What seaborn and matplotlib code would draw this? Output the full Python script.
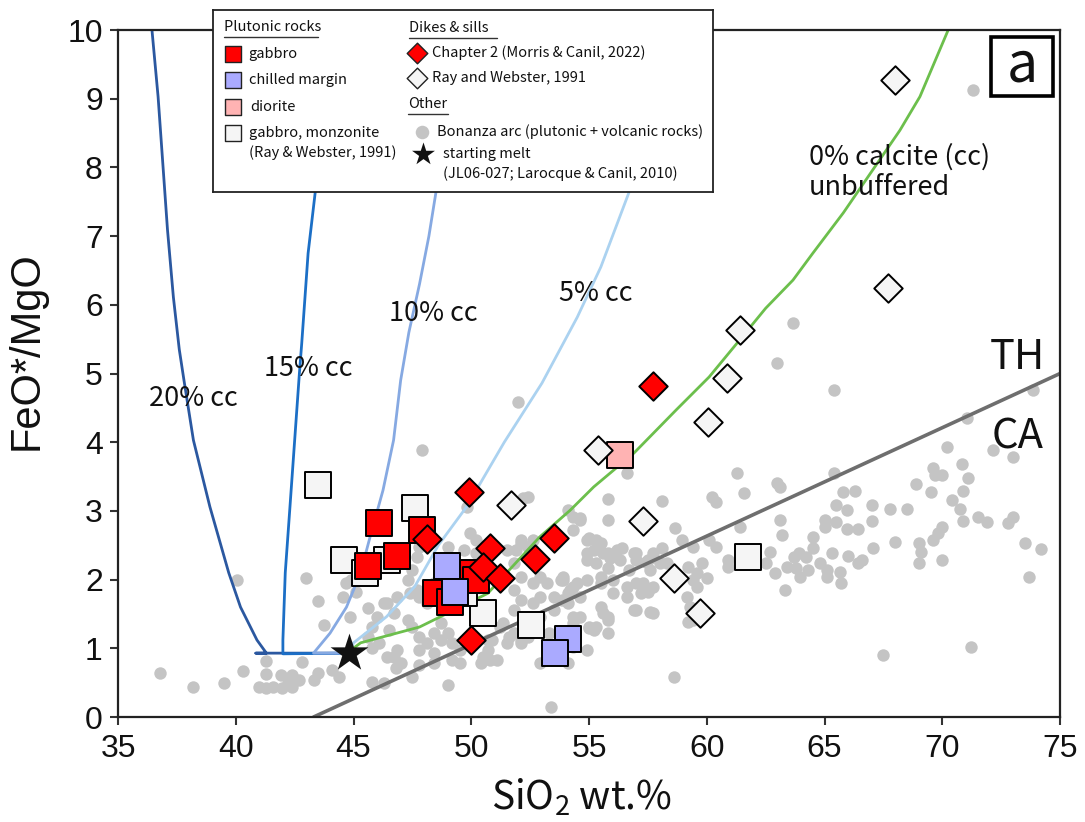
import matplotlib
matplotlib.use("Agg")
import matplotlib.pyplot as plt
from matplotlib.patches import Rectangle
import seaborn as sns

# ---- data ----
# Bonanza arc (plutonic + volcanic rocks), grey dots
bonanza_sio2 = [
    63.66, 63.0, 65.4, 71.05, 70.2, 72.15, 73.0, 73.85, 61.3, 63.0, 61.6, 60.2, 60.4, 55.8, 58.1, 56.6, 65.4,
    65.8, 66.3, 69.6, 70.0, 69.7, 70.85, 71.1, 68.9, 69.5, 70.9, 70.4, 70.75, 70.9, 71.5, 71.9, 73.0, 72.8, 68.5,
    67.8, 67.0, 65.5, 65.95, 65.0, 65.5, 67.0, 65.95, 66.4, 65.0, 68.0, 69.0, 69.1, 69.0, 69.8, 70.0, 69.6, 70.0,
    73.5, 74.2, 73.7, 67.05, 66.0, 66.4, 66.6, 65.3, 65.65, 65.7, 64.5, 64.5, 63.9, 64.2, 63.7, 64.8, 65.1, 65.1,
    64.3, 63.96, 63.8, 63.4, 63.2, 63.1, 62.9, 63.3, 62.7, 62.5, 71.2, 67.5, 58.6, 61.4, 63.1, 60.4, 60.1, 59.8,
    59.6, 60.0, 60.9, 60.9, 59.4, 58.95, 58.65, 58.1, 57.7, 58.0, 57.4, 57.6, 57.3, 57.5, 57.0, 57.6, 59.2, 59.15,
    59.6, 56.4, 57.0, 57.0, 55.8, 54.6, 54.3, 55.0, 55.3, 54.9, 55.3, 55.6, 55.9, 55.5, 55.8, 56.0, 56.0, 56.6,
    55.6, 55.8, 55.0, 55.2, 53.9, 53.85, 56.7, 57.0,
    71.3, 52.0, 47.9,
    36.8, 38.2, 39.5, 40.05, 40.3, 41.3, 41.3, 41.0, 41.3, 41.6, 41.96, 42.2, 42.4, 42.7, 42.4, 41.9, 42.8, 43.0,
    43.5, 43.5, 43.3, 43.75, 44.1, 44.4, 44.55, 44.7, 45.1, 44.85, 45.6, 45.8, 46.0, 46.3, 46.5, 46.7, 46.8, 46.3,
    45.8,
    44.9, 49.8, 52.4, 49.95, 50.2, 49.7, 49.0, 48.8, 47.8, 47.7, 47.1, 47.5, 47.3, 47.7, 47.8, 48.4, 48.1, 46.4,
    46.85, 46.7, 45.8, 45.6, 46.1, 47.3, 47.5, 47.8, 48.1, 47.8, 48.7, 49.0, 49.2, 48.7, 46.85, 46.4, 47.0, 49.5,
    49.2, 51.5, 52.1, 52.4, 52.6, 51.8, 52.1, 52.6, 52.9, 51.8, 52.1, 51.8, 52.6, 52.9, 53.2, 53.5, 53.9, 54.2,
    54.5, 51.35, 51.8, 52.1, 51.5, 52.4, 50.7, 50.7, 51.1, 50.4, 52.9, 53.5, 54.1, 54.3, 53.3, 53.8, 54.3, 53.6,
    52.9, 54.1, 49.5, 48.4, 47.8,
    50.2, 52.2, 54.1, 54.3, 54.6, 52.1, 51.9, 52.4, 52.6, 54.9, 55.2, 55.5, 54.9, 55.8, 56.2, 56.3, 56.9, 57.5,
    57.7, 58.3, 58.6, 59.2, 59.4, 53.8, 54.1, 54.6, 54.3, 54.9, 55.5, 56.6, 57.2, 57.7, 55.5, 55.8, 56.9, 57.7,
    54.3, 55.0, 54.6, 47.5, 49.0, 53.4, 59.4, 59.3, 47.4, 48.4, 48.4, 51.2, 51.6, 52.1, 50.9, 50.5, 50.8, 54.3,
    54.9, 55.3, 55.8,
]
bonanza_ratio = [
    5.73, 5.15, 4.76, 4.35, 3.93, 3.89, 3.78, 4.76, 3.55, 3.41, 3.26, 3.2, 3.13, 3.17, 3.14, 3.55, 3.55,
    3.28, 3.29, 3.62, 3.52, 3.52, 3.68, 3.48, 3.39, 3.28, 3.29, 3.16, 3.03, 2.85, 2.91, 2.84, 2.91, 2.82, 3.03,
    3.03, 3.09, 3.09, 3.01, 2.87, 2.84, 2.85, 2.74, 2.74, 2.77, 2.55, 2.53, 2.4, 2.24, 2.68, 2.77, 2.58, 2.29,
    2.53, 2.44, 2.04, 2.46, 2.34, 2.24, 2.29, 2.39, 2.11, 1.95, 2.62, 2.46, 2.39, 2.33, 2.33, 2.24, 2.14, 2.04,
    2.14, 2.04, 2.17, 2.18, 2.65, 2.87, 2.1, 1.85, 2.4, 2.24, 1.02, 0.9, 0.58, 2.77, 3.35, 2.47, 2.58, 2.24,
    2.1, 2.02, 2.29, 2.18, 2.47, 2.58, 2.75, 2.46, 2.39, 2.24, 2.26, 2.14, 1.95, 1.82, 1.56, 1.53, 1.38, 1.75,
    1.89, 2.46, 2.39, 2.29, 2.87, 2.9, 2.72, 2.6, 2.58, 2.29, 2.24, 2.39, 2.31, 2.04, 2.17, 1.99, 1.8, 1.75,
    1.51, 1.41, 1.3, 1.27, 2.04, 1.7, 2.14, 1.95,
    9.13, 4.58, 3.89,
    0.64, 0.44, 0.49, 2.0, 0.67, 0.82, 0.63, 0.44, 0.42, 0.44, 0.42, 0.49, 0.44, 0.54, 0.61, 0.61, 0.8, 2.02,
    1.69, 0.64, 0.54, 1.34, 0.68, 0.58, 1.75, 1.95, 1.82, 1.46, 1.59, 1.0, 1.46, 1.66, 1.27, 0.87, 0.71, 0.49,
    0.51,
    1.99, 3.06, 3.2, 2.68, 2.39, 2.43, 2.47, 2.24, 2.47, 2.33, 2.33, 2.14, 1.99, 1.85, 1.75, 1.95, 1.66, 1.66,
    1.75, 1.51, 1.31, 1.16, 1.08, 1.41, 1.31, 1.16, 1.08, 0.98, 1.37, 1.22, 1.08, 1.12, 0.98, 0.87, 0.79, 0.98,
    0.83, 2.43, 2.53, 2.33, 2.43, 2.24, 2.04, 1.95, 2.04, 1.85, 1.7, 1.56, 1.66, 1.75, 1.95, 1.75, 1.99, 1.85,
    1.95, 1.37, 1.22, 1.08, 1.08, 1.16, 1.12, 0.98, 0.83, 0.79, 1.46, 1.56, 1.66, 1.46, 1.22, 1.12, 1.22, 0.87,
    0.79, 0.79, 0.79, 0.79, 0.76,
    2.58, 3.19, 3.01, 2.91, 2.87, 2.58, 2.43, 2.47, 2.58, 2.58, 2.43, 2.53, 2.39, 2.39, 2.43, 2.29, 2.39, 2.29,
    2.33, 2.24, 2.1, 2.18, 1.99, 1.99, 1.8, 1.75, 1.89, 1.99, 1.95, 1.89, 1.8, 1.89, 1.6, 1.46, 1.56, 1.51,
    1.37, 1.31, 1.46, 0.58, 0.47, 0.15, 1.41, 1.6, 1.8, 1.22, 0.93, 1.31, 1.16, 1.12, 1.12, 0.87, 0.83, 1.02,
    0.98, 1.31, 1.22,
]

# plutonic rocks
gabbro_sio2 = [46.1, 47.9, 46.85, 45.6, 48.5, 49.1, 49.8, 50.2]
gabbro_ratio = [2.82, 2.72, 2.34, 2.2, 1.8, 1.67, 2.1, 2.0]
chilled_sio2 = [48.95, 49.3, 54.1, 53.55]
chilled_ratio = [2.2, 1.82, 1.13, 0.93]
diorite_sio2 = [56.3]
diorite_ratio = [3.81]
rw_plut_sio2 = [43.5, 47.6, 44.6, 45.5, 46.4, 50.5, 52.55, 49.7, 61.75]
rw_plut_ratio = [3.38, 3.04, 2.28, 2.1, 2.28, 1.51, 1.34, 1.8, 2.33]

# dikes & sills
ch2_sio2 = [49.9, 48.1, 50.8, 50.5, 51.2, 52.7, 53.5, 50.0, 57.7]
ch2_ratio = [3.28, 2.59, 2.46, 2.18, 2.02, 2.3, 2.61, 1.12, 4.82]
rw_dike_sio2 = [68.0, 67.7, 61.4, 60.85, 60.05, 55.4, 57.3, 58.6, 59.7, 51.7]
rw_dike_ratio = [9.27, 6.24, 5.63, 4.93, 4.29, 3.89, 2.85, 2.02, 1.51, 3.09]

start_sio2 = [44.8]
start_ratio = [0.93]

# crystallisation paths for different calcite additions
cc20_sio2 = [44.8, 40.85, 41.3, 40.9, 40.2, 39.7, 38.9, 38.2, 37.8, 37.6, 37.35, 37.1, 36.9, 36.7, 36.44]
cc20_ratio = [0.93, 0.93, 0.93, 1.12, 1.6, 2.1, 3.06, 4.03, 4.9, 5.35, 6.11, 7.09, 8.06, 9.03, 10.0]
cc15_sio2 = [44.8, 42.0, 42.0, 42.1, 42.3, 42.5, 42.7, 42.8, 43.07, 43.37, 43.8]
cc15_ratio = [0.93, 0.92, 1.12, 2.1, 3.06, 4.03, 5.0, 5.44, 6.75, 7.63, 10.0]
cc10_sio2 = [44.8, 43.3, 44.0, 44.7, 45.3, 45.7, 46.25, 46.7, 47.0, 47.35, 47.8, 48.2, 48.5, 49.3]
cc10_ratio = [0.93, 0.93, 1.22, 1.6, 2.1, 2.62, 3.3, 4.03, 4.9, 5.6, 6.3, 7.0, 7.64, 10.0]
cc5_sio2 = [44.8, 45.0, 46.4, 47.6, 48.6, 49.8, 51.4, 53.0, 54.5, 55.5, 56.7, 58.8]
cc5_ratio = [0.93, 1.08, 1.46, 1.9, 2.5, 3.06, 4.0, 4.86, 5.82, 6.55, 7.64, 10.0]
cc0_sio2 = [44.8, 45.3, 47.8, 50.7, 52.9, 54.2, 55.2, 56.9, 58.7, 60.1, 61.4, 62.5, 63.66, 64.5, 65.8,
            68.2, 69.05, 70.25]
cc0_ratio = [0.95, 1.08, 1.31, 1.8, 2.62, 3.01, 3.35, 3.84, 4.47, 4.95, 5.49, 5.95, 6.36, 6.75, 7.34,
             8.54, 9.03, 10.0]

# tholeiitic / calc-alkaline divide
thca_sio2 = [43.3, 75.0]
thca_ratio = [0.0, 5.0]

x_ticks = [35, 40, 45, 50, 55, 60, 65, 70, 75]
y_ticks = [0, 1, 2, 3, 4, 5, 6, 7, 8, 9, 10]

# ---- style ----
sns.set_theme(style="ticks")
plt.rcParams['font.family'] = ['Noto Sans CJK JP', 'DejaVu Sans']
plt.rcParams['mathtext.fontset'] = 'custom'
plt.rcParams['mathtext.rm'] = 'Noto Sans CJK JP'
plt.rcParams['mathtext.it'] = 'Noto Sans CJK JP'
arial = ['Liberation Sans', 'DejaVu Sans']
txt = '#111111'

fig, ax = plt.subplots(figsize=(10.85, 8.22), dpi=100)
fig.subplots_adjust(left=0.1088, right=0.977, bottom=0.1277, top=0.9635)

# grey background data
sns.scatterplot(x=bonanza_sio2, y=bonanza_ratio, color='#c4c4c4', s=80, linewidth=0, ax=ax, zorder=1)

# model curves
curves = [
    (cc20_sio2, cc20_ratio, '#2b58a0'),
    (cc15_sio2, cc15_ratio, '#1c6fc6'),
    (cc10_sio2, cc10_ratio, '#86a9e2'),
    (cc5_sio2, cc5_ratio, '#abd2f0'),
    (cc0_sio2, cc0_ratio, '#6cbf4c'),
]
for xs, ys, col in curves:
    sns.lineplot(x=xs, y=ys, sort=False, estimator=None, color=col, lw=2.0, ax=ax, zorder=2)
sns.lineplot(x=thca_sio2, y=thca_ratio, sort=False, estimator=None, color='#6e6e6e', lw=2.6, ax=ax, zorder=2)

# samples
edge = dict(edgecolor='black', linewidth=1.4)
sns.scatterplot(x=rw_plut_sio2, y=rw_plut_ratio, marker='s', s=360, color='#f5f5f5', ax=ax, zorder=3, **edge)
sns.scatterplot(x=gabbro_sio2, y=gabbro_ratio, marker='s', s=360, color='#ff0000', ax=ax, zorder=3, **edge)
sns.scatterplot(x=chilled_sio2, y=chilled_ratio, marker='s', s=360, color='#aaaaff', ax=ax, zorder=3, **edge)
sns.scatterplot(x=diorite_sio2, y=diorite_ratio, marker='s', s=360, color='#ffb3b3', ax=ax, zorder=3, **edge)
sns.scatterplot(x=rw_dike_sio2, y=rw_dike_ratio, marker='D', s=210, color='#f5f5f5', ax=ax, zorder=3, **edge)
sns.scatterplot(x=ch2_sio2, y=ch2_ratio, marker='D', s=210, color='#ff0000', ax=ax, zorder=3, **edge)
sns.scatterplot(x=start_sio2, y=start_ratio, marker='*', s=820, color='#111111', linewidth=0, ax=ax, zorder=4)

# axes
ax.set_xlim(35, 75)
ax.set_ylim(0, 10)
ax.set_xticks(x_ticks)
ax.set_yticks(y_ticks)
ax.tick_params(direction='out', length=6, width=1.5, color='#333333', labelsize=23, labelcolor=txt)
ax.tick_params(axis='x', pad=6)
ax.tick_params(axis='y', pad=5)
for lbl in ax.get_xticklabels() + ax.get_yticklabels():
    lbl.set_fontfamily(arial)
for sp in ax.spines.values():
    sp.set_visible(True)
    sp.set_color('#222222')
    sp.set_linewidth(1.6)

ax.set_ylabel('FeO*/MgO', fontsize=30, family=arial, color=txt)
ax.yaxis.set_label_coords(-0.0754, 0.534)
ax.set_xlabel('SiO$_2$ wt.%', fontsize=28, color=txt)
ax.xaxis.set_label_coords(0.4915, -0.088)

# curve labels
lab = 19.5
ax.text(38.2, 4.64, '20% cc', fontsize=lab, ha='center', va='center', color=txt)
ax.text(43.07, 5.08, '15% cc', fontsize=lab, ha='center', va='center', color=txt)
ax.text(48.4, 5.88, '10% cc', fontsize=lab, ha='center', va='center', color=txt)
ax.text(55.3, 6.17, '5% cc', fontsize=lab, ha='center', va='center', color=txt)
ax.text(64.35, 7.93, '0% calcite (cc)\nunbuffered', fontsize=lab, ha='left', va='center',
        linespacing=1.15, color=txt)
ax.text(73.2, 5.24, 'TH', fontsize=30, ha='center', va='center', color=txt)
ax.text(73.2, 4.07, 'CA', fontsize=30, ha='center', va='center', color=txt)

# panel letter
ax.add_patch(Rectangle((0.9268, 0.904), 0.0658, 0.0859, transform=ax.transAxes,
                       facecolor='white', edgecolor='black', lw=2.6, zorder=5))
ax.text(0.9597, 0.9476, 'a', transform=ax.transAxes, fontsize=40, ha='center', va='center',
        color=txt, zorder=6)

# ---- legend box (pixel layout inside the box) ----
lg = fig.add_axes([0.1963, 0.7664, 0.4608, 0.2214])
lg.set_xlim(0, 500)
lg.set_ylim(182, 0)
lg.set_xticks([])
lg.set_yticks([])
lg.set_facecolor('white')
for sp in lg.spines.values():
    sp.set_color('#222222')
    sp.set_linewidth(1.3)

fs = 10.5
def head(x, y, w, label):
    lg.text(x, y, label, fontsize=fs, ha='left', va='center', color=txt)
    lg.plot([x, x + w], [y + 10, y + 10], color='#333333', lw=1.0)

def entry(x, y, marker, size, face, label, tx, lw=1.0):
    lg.scatter([x], [y], marker=marker, s=size, c=face, edgecolors='#222222', linewidths=lw, zorder=3)
    lg.text(tx, y, label, fontsize=fs, ha='left', va='center', color=txt, linespacing=1.35)

head(11, 17, 94, 'Plutonic rocks')
entry(20, 44, 's', 135, '#ff0000', 'gabbro', 35)
entry(20, 70, 's', 135, '#aaaaff', 'chilled margin', 36)
entry(20, 97, 's', 135, '#ffb3b3', 'diorite', 37)
entry(20, 123, 's', 135, '#f5f5f5', 'gabbro, monzonite', 36)
lg.text(36, 143, '(Ray & Webster, 1991)', fontsize=fs, ha='left', va='center', color=txt)

head(196, 18, 88, 'Dikes & sills')
entry(204, 43, 'D', 110, '#ff0000', 'Chapter 2 (Morris & Canil, 2022)', 219)
entry(204, 68, 'D', 110, '#f5f5f5', 'Ray and Webster, 1991', 219)
head(195, 94, 40, 'Other')
entry(209, 122, 'o', 95, '#c4c4c4', 'Bonanza arc (plutonic + volcanic rocks)', 224, lw=0)
entry(210, 144, '*', 300, '#111111', 'starting melt', 230, lw=0)
lg.text(230, 164, '(JL06-027; Larocque & Canil, 2010)', fontsize=fs, ha='left', va='center', color=txt)

fig.savefig('out.png', dpi=100)
